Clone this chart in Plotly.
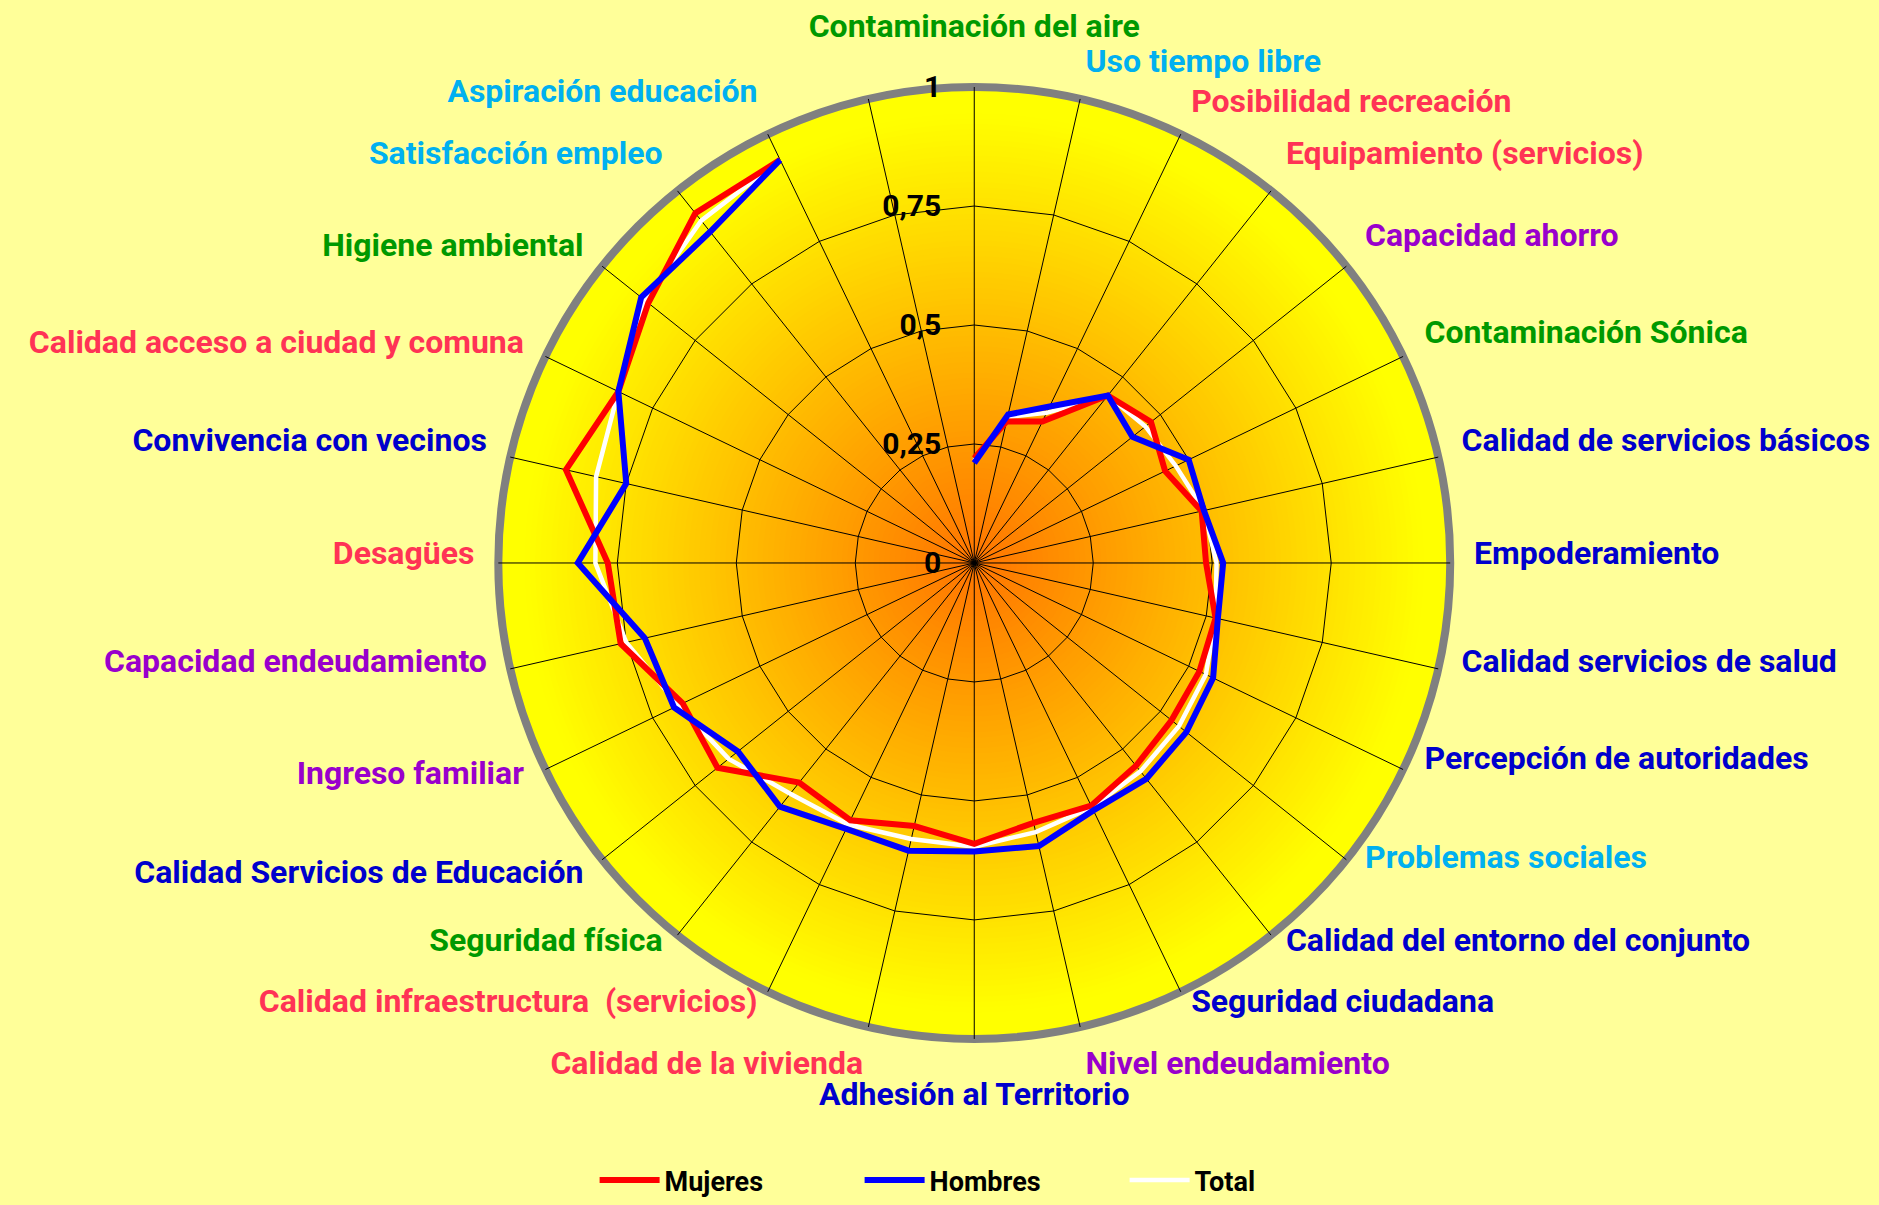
import numpy as np
import plotly.graph_objects as go

# --- categories, clockwise from the top (last slot has no label and no data) ---
CATEGORIAS = [
    "Contaminación del aire", "Uso tiempo libre", "Posibilidad recreación",
    "Equipamiento (servicios)", "Capacidad ahorro", "Contaminación Sónica",
    "Calidad de servicios básicos", "Empoderamiento", "Calidad servicios de salud",
    "Percepción de autoridades", "Problemas sociales", "Calidad del entorno del conjunto",
    "Seguridad ciudadana", "Nivel endeudamiento", "Adhesión al Territorio",
    "Calidad de la vivienda", "Calidad infraestructura\u00a0 (servicios)", "Seguridad física",
    "Calidad Servicios de Educación", "Ingreso familiar", "Capacidad endeudamiento",
    "Desagües", "Convivencia con vecinos", "Calidad acceso a ciudad y comuna",
    "Higiene ambiental", "Satisfacción empleo", "Aspiración educación", "",
]

# dimension group of each category (drives the label colour)
GRUPO = [
    "amb", "soc", "serv", "serv", "eco", "amb", "inst", "inst", "inst", "inst",
    "soc", "inst", "inst", "eco", "inst", "serv", "serv", "amb", "inst", "eco",
    "eco", "serv", "inst", "serv", "amb", "soc", "soc", "",
]

# --- series values (0-1 index) ---
MUJERES = [0.22, 0.305, 0.33, 0.45, 0.475, 0.445, 0.49, 0.487, 0.52, 0.525,
           0.53, 0.545, 0.566, 0.56, 0.59, 0.567, 0.60, 0.59, 0.69, 0.68,
           0.762, 0.77, 0.88, 0.83, 0.876, 0.94, 0.94, None]
HOMBRES = [0.21, 0.32, 0.365, 0.45, 0.425, 0.50, 0.495, 0.523, 0.525, 0.557,
           0.57, 0.58, 0.577, 0.61, 0.606, 0.62, 0.62, 0.655, 0.635, 0.70,
           0.71, 0.833, 0.75, 0.83, 0.895, 0.89, 0.94, None]
TOTAL = [0.215, 0.315, 0.35, 0.45, 0.46, 0.47, 0.495, 0.509, 0.52, 0.54,
         0.55, 0.56, 0.57, 0.58, 0.596, 0.595, 0.61, 0.62, 0.66, 0.69,
         0.75, 0.796, 0.815, 0.83, 0.885, 0.92, 0.94, None]

RADIAL_TICKS = [0, 0.25, 0.5, 0.75, 1]
RADIAL_TEXT = ["0", "0,25", "0,5", "0,75", "1"]

# ---------------- styling ----------------
COLOR_GRUPO = {
    "amb": "#009900", "soc": "#00B0F0", "serv": "#FF3355",
    "eco": "#9900CC", "inst": "#0000CC", "": "#000000",
}
FUENTE = "Roboto, Liberation Sans, Arial, sans-serif"
ANCHO, ALTO = 1879, 1205
DOMINIO_X = [0.2652, 0.7718]
DOMINIO_Y = [0.1378, 0.9278]

# vertical nudge (px, upwards) for each category label: labels are drawn on
# transparent copies of the angular axis whose domain is raised by that amount
NUDGE_ETIQUETA = [20, 0, 0, 10, 10, 10, 10, 10, 20, 35, 35, 35, 35, 10,
                  -10, 10, 35, 35, 20, 20, 20, 10, 10, 0, 0, 10, 10, 10]

posiciones = list(range(len(CATEGORIAS)))
etiquetas = [
    f'<span style="color:{COLOR_GRUPO[g]}">{c}</span>' if c else ""
    for c, g in zip(CATEGORIAS, GRUPO)
]

fig = go.Figure()

# background disc: radial ramp from deep orange in the centre to yellow at the rim
theta_circ = np.linspace(0, 360, 361)
for r in np.linspace(1.0, 0.0, 90, endpoint=False):
    t = min(1.0, r / 0.95)
    g = int(round(115 + (255 - 115) * t))
    fig.add_trace(go.Scatterpolar(
        r=np.full(theta_circ.size, r), theta=theta_circ, mode="lines",
        fill="toself", fillcolor=f"rgb(255,{g},0)", line=dict(width=0),
        hoverinfo="skip", showlegend=False, subplot="polar",
    ))

# data series (Total underneath, Hombres on top)
series = [
    ("Total", TOTAL, "#FFFFFF", 4.5, 3),
    ("Mujeres", MUJERES, "#FF0000", 6, 1),
    ("Hombres", HOMBRES, "#0000FF", 6, 2),
]
for nombre, valores, color, ancho, rango in series:
    fig.add_trace(go.Scatterpolar(
        r=valores, theta=posiciones, mode="lines", name=nombre,
        line=dict(color=color, width=ancho), connectgaps=False,
        legendrank=rango, subplot="polar2",
    ))

categoria_axis = dict(
    type="category", direction="clockwise", rotation=90,
    categoryorder="array", categoryarray=posiciones,
)

layout_polares = dict(
    polar=dict(
        domain=dict(x=DOMINIO_X, y=DOMINIO_Y),
        bgcolor="#FFFF00",
        angularaxis=dict(
            type="linear", direction="clockwise", rotation=90,
            showgrid=False, showticklabels=False, ticks="",
            showline=True, linecolor="#808080", linewidth=8,
        ),
        radialaxis=dict(range=[0, 1], visible=False),
    ),
    polar2=dict(
        domain=dict(x=DOMINIO_X, y=DOMINIO_Y),
        bgcolor="rgba(0,0,0,0)",
        gridshape="linear",
        angularaxis=dict(
            **categoria_axis,
            tickmode="array", tickvals=posiciones,
            showticklabels=False, ticks="",
            showline=False, showgrid=True, gridcolor="#000000", gridwidth=1,
        ),
        radialaxis=dict(
            range=[0, 1], angle=90, side="counterclockwise",
            tickmode="array", tickvals=RADIAL_TICKS, ticktext=RADIAL_TEXT,
            tickangle=90, showline=False,
            showgrid=True, gridcolor="#000000", gridwidth=1,
            ticks="outside", ticklen=22, tickcolor="rgba(0,0,0,0)",
            tickfont=dict(family=FUENTE, size=30, weight="bold", color="#000000"),
        ),
    ),
)

# category labels, one transparent angular axis per vertical nudge
for i, nudge in enumerate(sorted(set(NUDGE_ETIQUETA))):
    nombre_polar = f"polar{i + 3}"
    dy = nudge / ALTO
    textos = [e if n == nudge else "" for e, n in zip(etiquetas, NUDGE_ETIQUETA)]
    fig.add_trace(go.Scatterpolar(
        r=[0] * len(posiciones), theta=posiciones, mode="markers",
        marker=dict(size=1, opacity=0), hoverinfo="skip", showlegend=False,
        subplot=nombre_polar,
    ))
    layout_polares[nombre_polar] = dict(
        domain=dict(x=DOMINIO_X, y=[DOMINIO_Y[0] + dy, DOMINIO_Y[1] + dy]),
        bgcolor="rgba(0,0,0,0)",
        gridshape="linear",
        angularaxis=dict(
            **categoria_axis,
            tickmode="array", tickvals=posiciones, ticktext=textos,
            showline=False, showgrid=False,
            ticks="outside", ticklen=17, tickcolor="rgba(0,0,0,0)",
            tickfont=dict(family=FUENTE, size=32, weight="bold"),
        ),
        radialaxis=dict(range=[0, 1], visible=False),
    )

fig.update_layout(
    width=ANCHO, height=ALTO,
    margin=dict(l=0, r=0, t=0, b=0),
    paper_bgcolor="#FFFF99",
    font=dict(family=FUENTE, color="#000000"),
    legend=dict(
        orientation="h", x=0.528, xanchor="center", y=0.0, yanchor="bottom",
        bgcolor="rgba(0,0,0,0)",
        font=dict(family=FUENTE, size=27, weight="bold", color="#000000"),
        itemwidth=60, entrywidth=190,
    ),
    showlegend=True,
    **layout_polares,
)

fig.write_html("out.html")
